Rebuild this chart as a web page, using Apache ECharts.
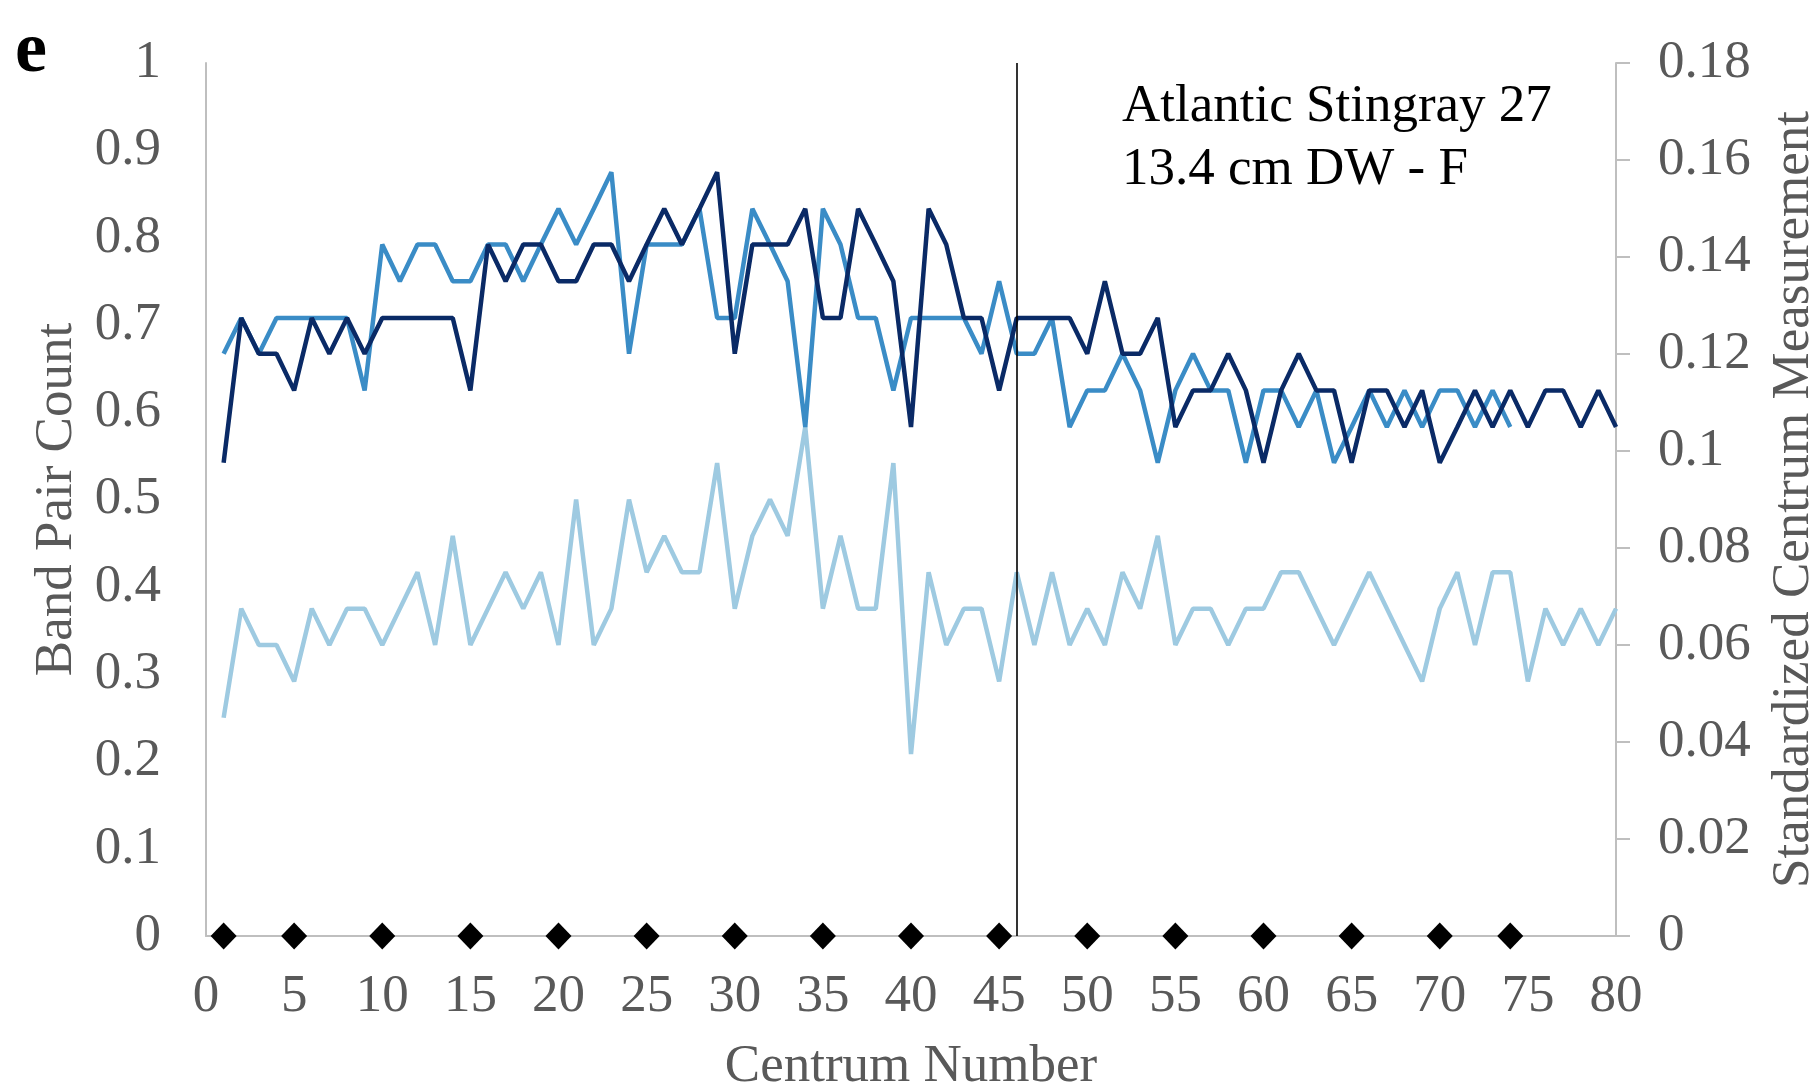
<!DOCTYPE html>
<html>
<head>
<meta charset="utf-8">
<script src="https://cdn.jsdelivr.net/npm/echarts@6/dist/echarts.min.js"></script>
<style>
html,body{margin:0;padding:0;background:#fff;}
#chart{width:1818px;height:1090px;}
</style>
</head>
<body>
<div id="chart"></div>
<script>
// Band pair count (left axis), centrum 1..80
const darkSeries = [0.542,0.708,0.667,0.667,0.625,0.708,0.667,0.708,0.667,0.708,
  0.708,0.708,0.708,0.708,0.625,0.792,0.75,0.792,0.792,0.75,
  0.75,0.792,0.792,0.75,0.792,0.833,0.792,0.833,0.875,0.667,
  0.792,0.792,0.792,0.833,0.708,0.708,0.833,0.792,0.75,0.583,
  0.833,0.792,0.708,0.708,0.625,0.708,0.708,0.708,0.708,0.667,
  0.75,0.667,0.667,0.708,0.583,0.625,0.625,0.667,0.625,0.542,
  0.625,0.667,0.625,0.625,0.542,0.625,0.625,0.583,0.625,0.542,
  0.583,0.625,0.583,0.625,0.583,0.625,0.625,0.583,0.625,0.583];
// Band pair count (left axis), centrum 1..74
const mediumSeries = [0.667,0.708,0.667,0.708,0.708,0.708,0.708,0.708,0.625,0.792,
  0.75,0.792,0.792,0.75,0.75,0.792,0.792,0.75,0.792,0.833,
  0.792,0.833,0.875,0.667,0.792,0.792,0.792,0.833,0.708,0.708,
  0.833,0.792,0.75,0.583,0.833,0.792,0.708,0.708,0.625,0.708,
  0.708,0.708,0.708,0.667,0.75,0.667,0.667,0.708,0.583,0.625,
  0.625,0.667,0.625,0.542,0.625,0.667,0.625,0.625,0.542,0.625,
  0.625,0.583,0.625,0.542,0.583,0.625,0.583,0.625,0.583,0.625,
  0.625,0.583,0.625,0.583];
// Standardized centrum measurement (right axis), centrum 1..80
const lightSeries = [0.045,0.0675,0.06,0.06,0.0525,0.0675,0.06,0.0675,0.0675,0.06,
  0.0675,0.075,0.06,0.0825,0.06,0.0675,0.075,0.0675,0.075,0.06,
  0.09,0.06,0.0675,0.09,0.075,0.0825,0.075,0.075,0.0975,0.0675,
  0.0825,0.09,0.0825,0.105,0.0675,0.0825,0.0675,0.0675,0.0975,0.0375,
  0.075,0.06,0.0675,0.0675,0.0525,0.075,0.06,0.075,0.06,0.0675,
  0.06,0.075,0.0675,0.0825,0.06,0.0675,0.0675,0.06,0.0675,0.0675,
  0.075,0.075,0.0675,0.06,0.0675,0.075,0.0675,0.06,0.0525,0.0675,
  0.075,0.06,0.075,0.075,0.0525,0.0675,0.06,0.0675,0.06,0.0675];
// Diamond markers along the x axis
const diamondX = [1,5,10,15,20,25,30,35,40,45,50,55,60,65,70,74];
const dividerX = 46;
const xTicks = [0,5,10,15,20,25,30,35,40,45,50,55,60,65,70,75,80];
const annotationLines = ['Atlantic Stingray 27', '13.4 cm DW - F'];

const FONT = '"Liberation Serif", "Times New Roman", serif';
const GRAY = '#595959';
const AXIS = '#bfbfbf';

const chart = echarts.init(document.getElementById('chart'));
const toXY = arr => arr.map((v, i) => [i + 1, v]);

chart.setOption({
  animation: false,
  backgroundColor: '#fff',
  grid: {left: 206, right: 202, top: 63, bottom: 154, containLabel: false, outerBoundsMode: 'none'},
  xAxis: {
    type: 'value', min: xTicks[0], max: xTicks[xTicks.length - 1], interval: 5,
    name: 'Centrum Number', nameLocation: 'middle', nameGap: 105,
    nameTextStyle: {fontFamily: FONT, fontSize: 53, color: GRAY},
    axisLine: {show: true, lineStyle: {color: AXIS, width: 2}},
    axisTick: {show: false},
    splitLine: {show: false},
    axisLabel: {fontFamily: FONT, fontSize: 53, color: GRAY, margin: 35}
  },
  yAxis: [{
    type: 'value', min: 0, max: 1, interval: 0.1, position: 'left',
    name: 'Band Pair Count', nameLocation: 'middle', nameGap: 113, nameRotate: 90,
    nameTextStyle: {fontFamily: FONT, fontSize: 53, color: GRAY},
    axisLine: {show: true, lineStyle: {color: AXIS, width: 2}},
    axisTick: {show: false},
    splitLine: {show: false},
    axisLabel: {fontFamily: FONT, fontSize: 53, color: GRAY, margin: 45}
  }, {
    type: 'value', min: 0, max: 0.18, interval: 0.02, position: 'right',
    name: 'Standardized Centrum Measurement', nameLocation: 'middle', nameGap: 152, nameRotate: 90,
    nameTextStyle: {fontFamily: FONT, fontSize: 53, color: GRAY},
    axisLine: {show: true, lineStyle: {color: AXIS, width: 2}},
    axisTick: {show: true, inside: false, length: 14, lineStyle: {color: AXIS, width: 2}},
    splitLine: {show: false},
    axisLabel: {fontFamily: FONT, fontSize: 53, color: GRAY, margin: 42}
  }],
  series: [{
    type: 'line', yAxisIndex: 1, data: toXY(lightSeries), showSymbol: false,
    lineStyle: {color: '#9ecae1', width: 4.5}, z: 2
  }, {
    type: 'line', yAxisIndex: 0, data: toXY(mediumSeries), showSymbol: false,
    lineStyle: {color: '#3a8cc6', width: 4.5}, z: 3
  }, {
    type: 'line', yAxisIndex: 0, data: toXY(darkSeries), showSymbol: false,
    lineStyle: {color: '#0a2a66', width: 4.5}, z: 4,
    markLine: {
      silent: true, symbol: ['none', 'none'], label: {show: false},
      lineStyle: {color: '#000', width: 1.6, type: 'solid'},
      data: [{xAxis: dividerX}]
    }
  }, {
    type: 'scatter', yAxisIndex: 0, data: diamondX.map(x => [x, 0]),
    symbol: 'diamond', symbolSize: [26, 27],
    itemStyle: {color: '#000', opacity: 1}, z: 5
  }],
  graphic: [{
    type: 'text', left: 15, top: 16,
    style: {text: 'e', font: 'bold 72px ' + FONT, fill: '#000'}
  }, {
    type: 'text', left: 1122, top: 76,
    style: {text: annotationLines.join('\n'), font: '53px ' + FONT, fill: '#000', lineHeight: 63}
  }]
});
</script>
</body>
</html>
